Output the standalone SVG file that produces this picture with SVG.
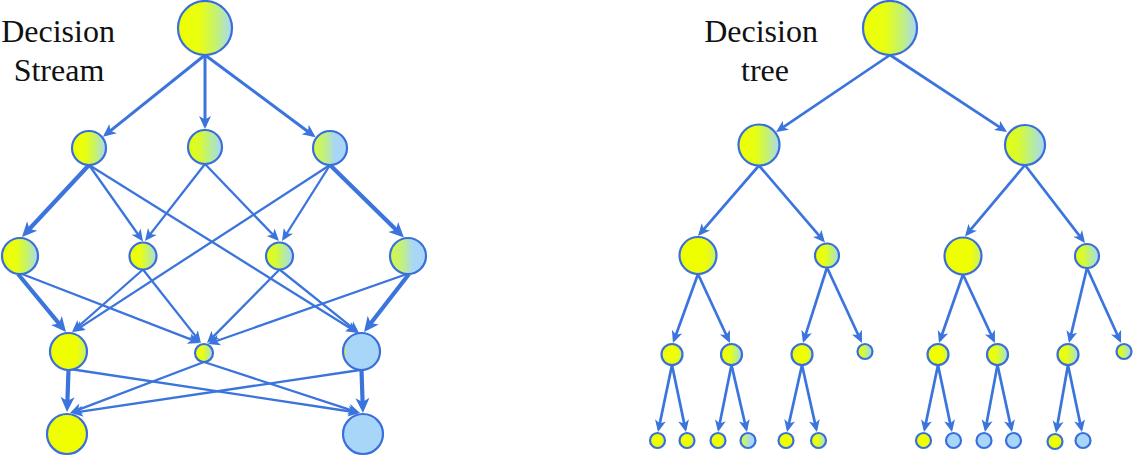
<svg xmlns="http://www.w3.org/2000/svg" width="1134" height="457" viewBox="0 0 1134 457">
<style>
.e{stroke:#3a74dc;stroke-width:2.3;fill:none;marker-end:url(#ah)}
.e3{stroke-width:3;marker-end:url(#am)}
.e4{stroke-width:4.2;marker-end:url(#al)}
.et{stroke-width:2.7}
.n{stroke:#3a6fdb;stroke-width:2.2}
text{font-family:"Liberation Serif",serif;font-size:32px;fill:#111;text-anchor:middle}
</style>
<defs>
<marker id="ah" markerUnits="userSpaceOnUse" markerWidth="12" markerHeight="11" refX="9" refY="5.5" orient="auto" overflow="visible"><path d="M12,5.5 L0,0 L3.2,5.5 L0,11 Z" fill="#3a74dc"/></marker>
<marker id="am" markerUnits="userSpaceOnUse" markerWidth="13" markerHeight="12" refX="10" refY="6" orient="auto" overflow="visible"><path d="M13,6 L0,0 L3.5,6 L0,12 Z" fill="#3a74dc"/></marker>
<marker id="al" markerUnits="userSpaceOnUse" markerWidth="15" markerHeight="14" refX="10" refY="7" orient="auto" overflow="visible"><path d="M15,7 L0,0 L4,7 L0,14 Z" fill="#3a74dc"/></marker>
<linearGradient id="g1"><stop offset="0" stop-color="#f0ff00"/><stop offset="0.7" stop-color="#f0ff00"/><stop offset="1" stop-color="#c4f070"/></linearGradient>
<linearGradient id="g2"><stop offset="0" stop-color="#f0ff00"/><stop offset="0.4" stop-color="#e8ff10"/><stop offset="0.7" stop-color="#c4f270"/><stop offset="1" stop-color="#a8d8f6"/></linearGradient>
<linearGradient id="g3"><stop offset="0" stop-color="#e4ff10"/><stop offset="0.35" stop-color="#d8fa30"/><stop offset="0.65" stop-color="#b8ee90"/><stop offset="1" stop-color="#a8d6f8"/></linearGradient>
<linearGradient id="g4"><stop offset="0" stop-color="#d8f840"/><stop offset="0.35" stop-color="#c0f080"/><stop offset="0.65" stop-color="#a8d6f8"/><stop offset="1" stop-color="#a8d6f8"/></linearGradient>
<linearGradient id="g5"><stop offset="0" stop-color="#c8f050"/><stop offset="0.12" stop-color="#a8d6f8"/><stop offset="1" stop-color="#a8d6f8"/></linearGradient>
</defs>

<text x="58" y="42">Decision</text>
<text x="59" y="81">Stream</text>
<text x="761" y="42">Decision</text>
<text x="765" y="81">tree</text>

<g id="connectors">
<g id="stream-edges">
<line class="e e3" x1="205" y1="55" x2="105.3" y2="134.9"/>
<line class="e e3" x1="205" y1="55" x2="205" y2="126"/>
<line class="e e3" x1="205" y1="55" x2="313.2" y2="135.5"/>
<line class="e e4" x1="89" y1="165" x2="25.4" y2="233.3"/>
<line class="e" x1="89" y1="165" x2="141.3" y2="239"/>
<line class="e" x1="89" y1="165" x2="355.5" y2="331.4"/>
<line class="e" x1="205" y1="164" x2="146.8" y2="238.6"/>
<line class="e" x1="205" y1="164" x2="276.9" y2="238.8"/>
<line class="e" x1="330" y1="165" x2="283.6" y2="238.5"/>
<line class="e e4" x1="330" y1="165" x2="400.4" y2="234"/>
<line class="e" x1="330" y1="165" x2="75.5" y2="330.4"/>
<line class="e e4" x1="18" y1="274" x2="62.8" y2="328.2"/>
<line class="e" x1="22" y1="274" x2="197.2" y2="341.9"/>
<line class="e" x1="143" y1="269.5" x2="74.3" y2="330"/>
<line class="e" x1="143" y1="269.5" x2="199.1" y2="340.6"/>
<line class="e" x1="279.5" y1="269.5" x2="209.1" y2="340.9"/>
<line class="e" x1="279.5" y1="269.5" x2="356.7" y2="331.1"/>
<line class="e" x1="407" y1="274" x2="210.8" y2="343"/>
<line class="e e4" x1="409" y1="274" x2="367.1" y2="328"/>
<line class="e e4" x1="68.5" y1="370" x2="67.2" y2="407"/>
<line class="e" x1="70" y1="369" x2="357" y2="412.5"/>
<line class="e" x1="204" y1="362" x2="72.8" y2="411.9"/>
<line class="e" x1="204" y1="362" x2="357.1" y2="412.1"/>
<line class="e" x1="360" y1="370" x2="74" y2="412.6"/>
<line class="e e4" x1="361.5" y1="370" x2="362.8" y2="408"/>
</g>
<g id="tree-edges">
<line class="e et" x1="890" y1="55" x2="778.5" y2="130.3"/>
<line class="e et" x1="890" y1="55" x2="1004.5" y2="130.3"/>
<line class="e et" x1="759" y1="165.5" x2="700" y2="233.7"/>
<line class="e et" x1="759" y1="165.5" x2="823" y2="240.2"/>
<line class="e et" x1="1025" y1="165" x2="966.9" y2="234.2"/>
<line class="e et" x1="1025" y1="165" x2="1083.2" y2="240.6"/>
<line class="e et" x1="698" y1="274" x2="674" y2="340.2"/>
<line class="e et" x1="698" y1="274" x2="728.7" y2="340.3"/>
<line class="e et" x1="827" y1="267.5" x2="803.9" y2="340.1"/>
<line class="e et" x1="827" y1="267.5" x2="860.7" y2="340.3"/>
<line class="e et" x1="963" y1="274.5" x2="940" y2="340.2"/>
<line class="e et" x1="963" y1="274.5" x2="993.7" y2="340.3"/>
<line class="e et" x1="1087" y1="268" x2="1069.7" y2="340.1"/>
<line class="e et" x1="1087" y1="268" x2="1119.8" y2="340.3"/>
<line class="e et" x1="672" y1="365" x2="658.6" y2="429.1"/>
<line class="e et" x1="672" y1="365" x2="685.4" y2="429.1"/>
<line class="e et" x1="731.5" y1="365" x2="718.6" y2="429.1"/>
<line class="e et" x1="731.5" y1="365" x2="746.3" y2="429.1"/>
<line class="e et" x1="802" y1="365" x2="787.7" y2="429.1"/>
<line class="e et" x1="802" y1="365" x2="816.3" y2="429.1"/>
<line class="e et" x1="938" y1="365" x2="924.6" y2="429.1"/>
<line class="e et" x1="938" y1="365" x2="951.4" y2="429.1"/>
<line class="e et" x1="997.5" y1="365" x2="985.5" y2="429.1"/>
<line class="e et" x1="997.5" y1="365" x2="1011.4" y2="429.1"/>
<line class="e et" x1="1068" y1="365" x2="1056.5" y2="430"/>
<line class="e et" x1="1068" y1="365" x2="1081.4" y2="429.1"/>
</g>
</g>

<g id="stream-nodes">
<g id="s-root"><circle class="n" cx="205" cy="28" r="27" fill="url(#g2)"/></g>
<g id="s-p1"><circle class="n" cx="89" cy="148" r="17" fill="url(#g2)"/></g>
<g id="s-p2"><circle class="n" cx="205" cy="147" r="17" fill="url(#g3)"/></g>
<g id="s-p3"><circle class="n" cx="330" cy="148" r="17" fill="url(#g4)"/></g>
<g id="s-q1"><circle class="n" cx="20" cy="256" r="18" fill="url(#g2)"/></g>
<g id="s-q2"><circle class="n" cx="143" cy="256" r="13.5" fill="url(#g2)"/></g>
<g id="s-q3"><circle class="n" cx="279.5" cy="256" r="13.5" fill="url(#g3)"/></g>
<g id="s-q4"><circle class="n" cx="408" cy="256" r="18" fill="url(#g4)"/></g>
<g id="s-r1"><circle class="n" cx="68.5" cy="351.5" r="18.5" fill="url(#g1)"/></g>
<g id="s-r2"><circle class="n" cx="204" cy="353" r="9" fill="url(#g2)"/></g>
<g id="s-r3"><circle class="n" cx="361.5" cy="351.5" r="18.5" fill="url(#g5)"/></g>
<g id="s-t1"><circle class="n" cx="67" cy="434" r="20" fill="#f0ff00"/></g>
<g id="s-t2"><circle class="n" cx="363" cy="434" r="20" fill="#a8d6f8"/></g>
</g>

<g id="tree-nodes">
<g id="t-root"><circle class="n" cx="890" cy="28" r="27" fill="url(#g2)"/></g>
<g id="t-A"><circle class="n" cx="759" cy="145" r="20.5" fill="url(#g2)"/></g>
<g id="t-B"><circle class="n" cx="1025" cy="145" r="20" fill="url(#g3)"/></g>
<g id="t-a"><circle class="n" cx="698" cy="255.5" r="18.5" fill="url(#g1)"/></g>
<g id="t-b"><circle class="n" cx="827" cy="255.5" r="12" fill="url(#g2)"/></g>
<g id="t-c"><circle class="n" cx="963" cy="256" r="18.5" fill="url(#g1)"/></g>
<g id="t-d"><circle class="n" cx="1087" cy="256" r="12" fill="url(#g3)"/></g>
<g id="t-a1"><circle class="n" cx="672" cy="354.5" r="10.5" fill="url(#g1)"/></g>
<g id="t-a2"><circle class="n" cx="731.5" cy="354.5" r="10.5" fill="url(#g2)"/></g>
<g id="t-b1"><circle class="n" cx="802" cy="354.5" r="10.5" fill="url(#g1)"/></g>
<g id="t-b2"><circle class="n" cx="865" cy="351.5" r="7.5" fill="url(#g3)"/></g>
<g id="t-c1"><circle class="n" cx="938" cy="354.5" r="10.5" fill="url(#g1)"/></g>
<g id="t-c2"><circle class="n" cx="997.5" cy="354.5" r="10.5" fill="url(#g2)"/></g>
<g id="t-d1"><circle class="n" cx="1068" cy="354.5" r="10.5" fill="url(#g2)"/></g>
<g id="t-d2"><circle class="n" cx="1124" cy="351.5" r="7.5" fill="url(#g3)"/></g>
<g id="t-l1"><circle class="n" cx="657.5" cy="440.5" r="7.5" fill="url(#g1)"/></g>
<g id="t-l2"><circle class="n" cx="687" cy="440.5" r="7.5" fill="url(#g1)"/></g>
<g id="t-l3"><circle class="n" cx="718" cy="440.5" r="7.5" fill="url(#g1)"/></g>
<g id="t-l4"><circle class="n" cx="748" cy="440.5" r="7.5" fill="url(#g4)"/></g>
<g id="t-l5"><circle class="n" cx="786" cy="440.5" r="7.5" fill="#f0ff00"/></g>
<g id="t-l6"><circle class="n" cx="818.5" cy="440.5" r="7.5" fill="url(#g2)"/></g>
<g id="t-l7"><circle class="n" cx="923.5" cy="440.5" r="7.5" fill="#f0ff00"/></g>
<g id="t-l8"><circle class="n" cx="953.5" cy="440.5" r="7.5" fill="#a8d6f8"/></g>
<g id="t-l9"><circle class="n" cx="984" cy="440.5" r="7.5" fill="#a8d6f8"/></g>
<g id="t-l10"><circle class="n" cx="1013.5" cy="440.5" r="7.5" fill="url(#g5)"/></g>
<g id="t-l11"><circle class="n" cx="1055" cy="441.5" r="7.5" fill="#f0ff00"/></g>
<g id="t-l12"><circle class="n" cx="1083" cy="440.5" r="7.5" fill="url(#g5)"/></g>
</g>
</svg>
